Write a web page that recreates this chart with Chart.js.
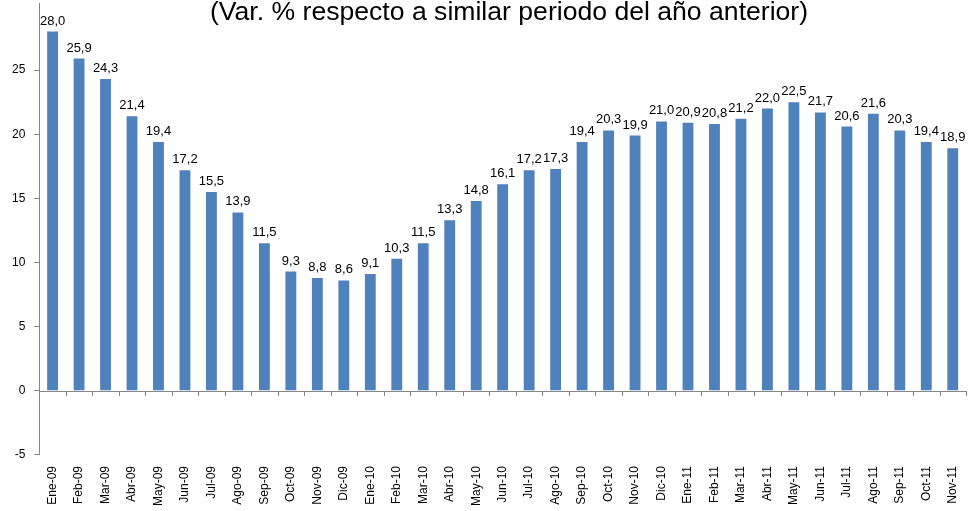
<!DOCTYPE html>
<html>
<head>
<meta charset="utf-8">
<script src="https://cdn.jsdelivr.net/npm/chart.js@4/dist/chart.umd.min.js"></script>
<style>
    html, body { margin: 0; padding: 0; background: #fff; }
    #wrap { width: 971px; height: 511px; }
</style>
</head>
<body>
<div id="wrap"><canvas id="varChart" width="971" height="511"></canvas></div>
<script>
const titleText = '(Var. % respecto a similar periodo del año anterior)';

const months = [
    'Ene-09', 'Feb-09', 'Mar-09', 'Abr-09', 'May-09', 'Jun-09', 'Jul-09', 'Ago-09', 'Sep-09', 'Oct-09', 'Nov-09', 'Dic-09',
    'Ene-10', 'Feb-10', 'Mar-10', 'Abr-10', 'May-10', 'Jun-10', 'Jul-10', 'Ago-10', 'Sep-10', 'Oct-10', 'Nov-10', 'Dic-10',
    'Ene-11', 'Feb-11', 'Mar-11', 'Abr-11', 'May-11', 'Jun-11', 'Jul-11', 'Ago-11', 'Sep-11', 'Oct-11', 'Nov-11'
];

const variation = [
    28.0, 25.9, 24.3, 21.4, 19.4, 17.2, 15.5, 13.9, 11.5, 9.3, 8.8, 8.6,
    9.1, 10.3, 11.5, 13.3, 14.8, 16.1, 17.2, 17.3, 19.4, 20.3, 19.9, 21.0,
    20.9, 20.8, 21.2, 22.0, 22.5, 21.7, 20.6, 21.6, 20.3, 19.4, 18.9
];

const yTicks = [-5, 0, 5, 10, 15, 20, 25];

const axisColor = '#868686';
const barColor = '#4F81BD';
const fontFamily = '"Liberation Sans", Arial, sans-serif';

// title, value labels and the zero line with its category ticks
const extrasPlugin = {
    id: 'extras',
    afterDatasetsDraw(chart) {
        const ctx = chart.ctx;
        const x = chart.scales.x;
        const y = chart.scales.y;
        const zero = Math.round(y.getPixelForValue(0));

        ctx.save();
        ctx.strokeStyle = axisColor;
        ctx.lineWidth = 1;
        ctx.beginPath();
        // y axis runs up to the top edge, as in the cropped original
        ctx.moveTo(Math.round(chart.chartArea.left) + 0.5, chart.chartArea.top);
        ctx.lineTo(Math.round(chart.chartArea.left) + 0.5, 3);
        ctx.moveTo(chart.chartArea.left, zero + 0.5);
        ctx.lineTo(chart.chartArea.right, zero + 0.5);
        for (let i = 0; i <= months.length; i++) {
            const px = Math.round(x.left + (x.right - x.left) * i / months.length) + 0.5;
            ctx.moveTo(px, zero);
            ctx.lineTo(px, zero + 5);
        }
        ctx.stroke();

        ctx.fillStyle = '#000';
        ctx.font = '13px ' + fontFamily;
        ctx.textAlign = 'center';
        ctx.textBaseline = 'alphabetic';
        const meta = chart.getDatasetMeta(0);
        meta.data.forEach((bar, i) => {
            ctx.fillText(variation[i].toFixed(1).replace('.', ','), bar.x, bar.y - 7);
        });

        ctx.font = '26.6px ' + fontFamily;
        ctx.textBaseline = 'middle';
        ctx.fillText(titleText, 509, 13);
        ctx.restore();
    }
};

new Chart(document.getElementById('varChart').getContext('2d'), {
    type: 'bar',
    data: {
        labels: months,
        datasets: [{
            data: variation,
            backgroundColor: barColor,
            borderWidth: 0,
            barPercentage: 0.82,
            categoryPercentage: 0.5
        }]
    },
    options: {
        responsive: false,
        animation: false,
        layout: { padding: { top: 0, right: 5, left: 3, bottom: 2 } },
        plugins: {
            legend: { display: false },
            tooltip: { enabled: false }
        },
        scales: {
            x: {
                grid: { display: false },
                border: { display: false },
                ticks: {
                    minRotation: 90,
                    maxRotation: 90,
                    autoSkip: false,
                    color: '#000',
                    padding: 3,
                    font: { family: fontFamily, size: 12 }
                }
            },
            y: {
                min: -5,
                max: 29.2,
                afterBuildTicks(scale) {
                    scale.ticks = yTicks.map(v => ({ value: v }));
                },
                grid: {
                    drawOnChartArea: false,
                    tickLength: 5,
                    color: axisColor
                },
                border: { color: axisColor },
                ticks: {
                    color: '#000',
                    padding: 9,
                    font: { family: fontFamily, size: 12 }
                }
            }
        }
    },
    plugins: [extrasPlugin]
});
</script>
</body>
</html>
